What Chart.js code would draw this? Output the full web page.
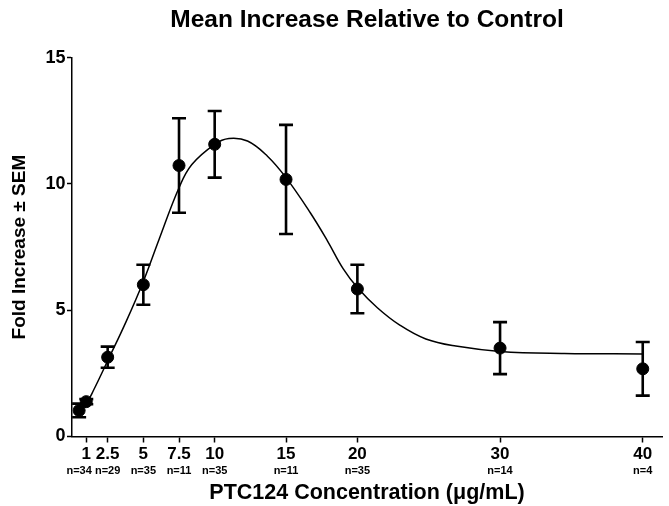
<!DOCTYPE html>
<html>
<head>
<meta charset="utf-8">
<script src="https://cdn.jsdelivr.net/npm/chart.js@4.4.1/dist/chart.umd.min.js"></script>
<style>
    html, body { margin: 0; padding: 0; background: #fff; }
    #chart { display: block; }
</style>
</head>
<body>
<canvas id="chart" width="669" height="506"></canvas>
<script>
    // measured means and SEM per dose
    const doses = [0.5, 1, 2.5, 5, 7.5, 10, 15, 20, 30, 40];
    const foldMean = [1.03, 1.38, 3.14, 6.01, 10.73, 11.57, 10.18, 5.84, 3.50, 2.68];
    const foldSem = [0.27, 0.10, 0.42, 0.79, 1.87, 1.32, 2.16, 0.96, 1.03, 1.06];

    // fitted curve
    const fitX = [0.5, 1, 1.5, 2.5, 3.8, 5, 6.1, 7.5, 8.4, 10, 11, 12.3, 13.7, 15, 16.7, 17.9, 19, 20, 21.4, 23, 24.8, 26.9, 30, 34.5, 40];
    const fitY = [1.0, 1.3, 1.82, 3.0, 4.56, 6.14, 7.8, 9.85, 10.77, 11.57, 11.8, 11.7, 11.1, 10.25, 8.86, 7.75, 6.65, 5.9, 5.1, 4.4, 3.86, 3.58, 3.37, 3.29, 3.27];

    // axis ticks
    const doseTicks = [1, 2.5, 5, 7.5, 10, 15, 20, 30, 40];
    const countTicks = [0.5, 2.5, 5, 7.5, 10, 15, 20, 30, 40];
    const countLabels = ['n=34', 'n=29', 'n=35', 'n=11', 'n=35', 'n=11', 'n=35', 'n=14', 'n=4'];

    const FONT = "'Liberation Sans', Arial, sans-serif";
    const X_MAX = 41.35;

    const errorBars = {
        id: 'errorBars',
        beforeDatasetsDraw(chart) {
            const ctx = chart.ctx;
            const xs = chart.scales.x;
            const ys = chart.scales.y;
            ctx.save();
            ctx.strokeStyle = '#000';
            ctx.lineWidth = 2.6;
            doses.forEach(function (d, i) {
                const px = xs.getPixelForValue(d);
                const top = ys.getPixelForValue(foldMean[i] + foldSem[i]);
                const bot = ys.getPixelForValue(foldMean[i] - foldSem[i]);
                ctx.beginPath();
                ctx.moveTo(px, top);
                ctx.lineTo(px, bot);
                ctx.moveTo(px - 7, top);
                ctx.lineTo(px + 7, top);
                ctx.moveTo(px - 7, bot);
                ctx.lineTo(px + 7, bot);
                ctx.stroke();
            });
            ctx.restore();
        }
    };

    const ctx = document.getElementById('chart').getContext('2d');
    const chart = new Chart(ctx, {
        type: 'scatter',
        data: {
            datasets: [{
                label: 'Mean',
                data: doses.map((d, i) => ({ x: d, y: foldMean[i] })),
                pointRadius: 6,
                pointBackgroundColor: '#000',
                pointBorderColor: '#000',
                showLine: false
            }, {
                label: 'Fit',
                data: fitX.map((d, i) => ({ x: d, y: fitY[i] })),
                showLine: true,
                pointRadius: 0,
                borderColor: '#000',
                borderWidth: 1.5,
                tension: 0.4
            }]
        },
        options: {
            responsive: false,
            animation: false,
            layout: { padding: 0 },
            plugins: {
                legend: { display: false },
                tooltip: { enabled: false },
                title: {
                    display: true,
                    text: 'Mean Increase Relative to Control',
                    fullSize: false,
                    color: '#000',
                    font: { family: FONT, size: 24.5, weight: 'bold' },
                    padding: { top: 5.3, bottom: 23 }
                }
            },
            scales: {
                x: {
                    type: 'linear',
                    position: 'bottom',
                    min: 0,
                    max: X_MAX,
                    afterBuildTicks: s => { s.ticks = doseTicks.map(v => ({ value: v })); },
                    afterFit: s => { s.height = 27.5; },
                    ticks: {
                        autoSkip: false,
                        maxRotation: 0,
                        padding: 1.5,
                        color: '#000',
                        font: { family: FONT, size: 17, weight: 'bold' },
                        callback: v => String(v)
                    },
                    grid: { drawOnChartArea: false, tickLength: 6, tickWidth: 1.5, color: '#000' },
                    border: { color: '#000', width: 1.5 }
                },
                x2: {
                    type: 'linear',
                    axis: 'x',
                    position: 'bottom',
                    weight: 1,
                    min: 0,
                    max: X_MAX,
                    afterBuildTicks: s => { s.ticks = countTicks.map(v => ({ value: v })); },
                    afterFit: s => { s.height = 42; },
                    ticks: {
                        autoSkip: false,
                        maxRotation: 0,
                        padding: 0.5,
                        color: '#000',
                        font: { family: FONT, size: 11, weight: 'bold' },
                        callback: (v, i) => countLabels[i]
                    },
                    grid: { display: false, drawTicks: false },
                    border: { display: false },
                    title: {
                        display: true,
                        text: 'PTC124 Concentration (μg/mL)',
                        color: '#000',
                        font: { family: FONT, size: 21.5, weight: 'bold' },
                        padding: 0
                    }
                },
                y: {
                    min: 0,
                    max: 15,
                    afterFit: s => { s.width = 72; },
                    ticks: {
                        stepSize: 5,
                        padding: 1.5,
                        color: '#000',
                        font: { family: FONT, size: 18, weight: 'bold' }
                    },
                    grid: { drawOnChartArea: false, tickLength: 5, tickWidth: 1.5, color: '#000' },
                    border: { color: '#000', width: 1.5 },
                    title: {
                        display: true,
                        text: 'Fold Increase ± SEM',
                        color: '#000',
                        font: { family: FONT, size: 19, weight: 'bold' },
                        padding: { top: 8.6, bottom: 0 }
                    }
                }
            }
        },
        plugins: [errorBars]
    });
</script>
</body>
</html>
